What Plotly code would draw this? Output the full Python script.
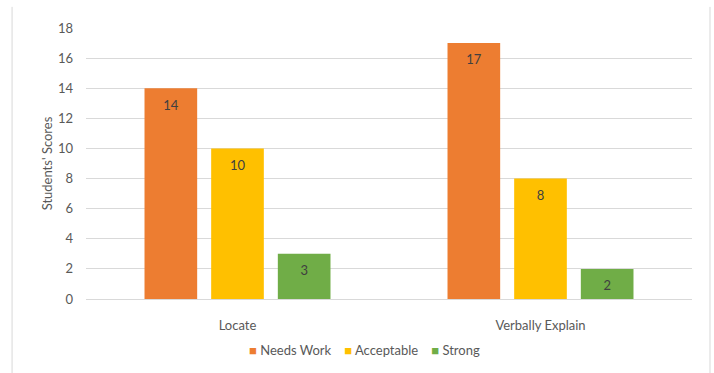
import plotly.graph_objects as go

categories = ["Locate", "Verbally Explain"]
needs_work = [14, 17]
acceptable = [10, 8]
strong = [3, 2]
series_names = ["Needs Work", "Acceptable", "Strong"]
series_colors = ["#ED7D31", "#FFC000", "#70AD47"]
y_ticks = [0, 2, 4, 6, 8, 10, 12, 14, 16, 18]

FONT = "Lato, 'Open Sans', sans-serif"
TEXT_GRAY = "#595959"
BAR_GAP = 0.34

fig = go.Figure()
series_values = [needs_work, acceptable, strong]
for name, vals, color in zip(series_names, series_values, series_colors):
    fig.add_trace(go.Bar(
        name=name,
        x=categories,
        y=vals,
        offsetgroup=name,
        marker=dict(color=color, line=dict(width=0)),
        hoverinfo="skip",
    ))

# value labels just below each bar top, grouped the same way as the bars
for name, vals in zip(series_names, series_values):
    fig.add_trace(go.Scatter(
        x=categories,
        y=vals,
        offsetgroup=name,
        mode="markers+text",
        marker=dict(size=17, opacity=0),
        text=[str(v) for v in vals],
        textposition="bottom center",
        textfont=dict(family=FONT, size=13, color="#404040"),
        showlegend=False,
        hoverinfo="skip",
        cliponaxis=False,
    ))

# legend row: coloured square + series name
legend_text = "\u2003 ".join(
    f"<span style='color:{c}'>\u25A0</span> {n}" for n, c in zip(series_names, series_colors)
)
fig.add_annotation(
    text=legend_text, xref="paper", yref="paper", x=0.459, y=-0.188,
    xanchor="center", yanchor="middle", showarrow=False,
    font=dict(family=FONT, size=13, color=TEXT_GRAY),
)

# outer chart frame
frame = dict(type="line", xref="paper", yref="paper", line=dict(color="#D9D9D9", width=1))
fig.add_shape(**frame, x0=-0.122, x1=-0.122, y0=1.078, y1=-0.3)
fig.add_shape(**frame, x0=1.0297, x1=1.0297, y0=1.078, y1=-0.3)

fig.update_layout(
    width=714,
    height=373,
    margin=dict(l=86, r=22, t=28, b=74),
    paper_bgcolor="white",
    plot_bgcolor="white",
    barmode="group",
    bargap=BAR_GAP,
    bargroupgap=0.21,
    scattermode="group",
    scattergap=BAR_GAP,
    font=dict(family=FONT, size=13, color=TEXT_GRAY),
    showlegend=False,
    xaxis=dict(
        showgrid=False,
        showline=True,
        linecolor="#D9D9D9",
        linewidth=1,
        ticks="",
        ticklabelstandoff=14,
        tickfont=dict(family=FONT, size=13, color=TEXT_GRAY),
    ),
    yaxis=dict(
        range=[0, 18],
        tickvals=y_ticks,
        showgrid=True,
        gridcolor="#D9D9D9",
        gridwidth=1,
        zeroline=False,
        showline=False,
        ticks="",
        ticklabelstandoff=12,
        tickfont=dict(family=FONT, size=13, color=TEXT_GRAY),
        title=dict(text="Students' Scores", font=dict(family=FONT, size=13, color=TEXT_GRAY), standoff=2),
    ),
)

fig.write_html("out.html")
